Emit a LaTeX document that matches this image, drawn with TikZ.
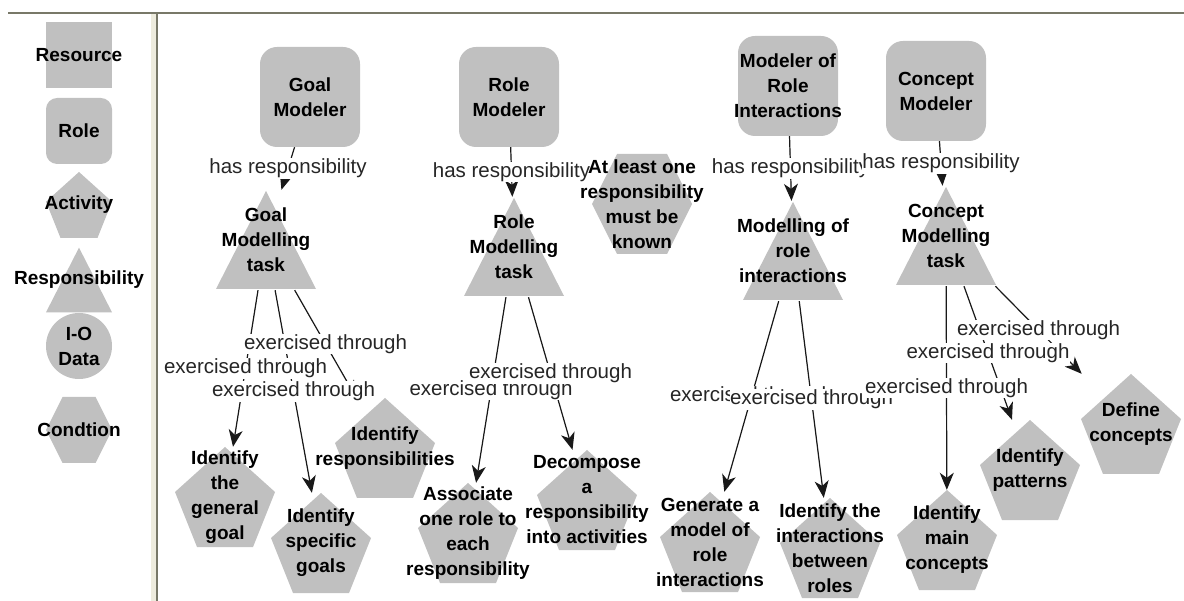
\documentclass[tikz,border=0pt]{standalone}
\usepackage{fontspec}
\setmainfont{Liberation Sans}
\usetikzlibrary{arrows.meta}

\definecolor{shapegray}{RGB}{192,192,192}
\definecolor{panelline}{RGB}{120,120,104}
\definecolor{panelband}{RGB}{238,236,222}

\begin{document}
\begin{tikzpicture}[x=1pt, y=-1pt,
  every node/.style={inner sep=0pt},
  kind/.style={font=\fontsize{19}{25}\selectfont\bfseries, align=center,
    minimum width=#1, minimum height=#1},
  resource/.style={kind=#1, path picture={
      \fill[shapegray] (path picture bounding box.center)
        +(-0.5*#1,-0.5*#1) rectangle +(0.5*#1,0.5*#1);}},
  resource/.default=100,
  role/.style={kind=#1, path picture={
      \fill[shapegray, rounded corners=0.17pt*#1] (path picture bounding box.center)
        +(-0.5*#1,-0.5*#1) rectangle +(0.5*#1,0.5*#1);}},
  role/.default=100,
  activity/.style={kind=#1, path picture={
      \fill[shapegray] (path picture bounding box.center) +(0,-0.5*#1)
        -- +(0.5*#1,-0.05*#1) -- +(0.28*#1,0.5*#1) -- +(-0.28*#1,0.5*#1)
        -- +(-0.5*#1,-0.05*#1) -- cycle;}},
  activity/.default=100,
  resp/.style={kind=#1, path picture={
      \fill[shapegray] (path picture bounding box.center) +(0,-0.49*#1)
        -- +(0.5*#1,0.49*#1) -- +(-0.5*#1,0.49*#1) -- cycle;}},
  resp/.default=100,
  iodata/.style={kind=#1, path picture={
      \fill[shapegray] (path picture bounding box.center) circle (0.5*#1);}},
  iodata/.default=100,
  condition/.style={kind=#1, path picture={
      \fill[shapegray] (path picture bounding box.center) +(-0.25*#1,-0.5*#1)
        -- +(0.25*#1,-0.5*#1) -- +(0.5*#1,0) -- +(0.25*#1,0.5*#1)
        -- +(-0.25*#1,0.5*#1) -- +(-0.5*#1,0) -- cycle;}},
  condition/.default=100,
  link/.style={-{Stealth[length=17pt, width=14pt, inset=5pt]}, line width=1.2pt,
    draw=black!90, fill=black},
  lbl/.style={font=\fontsize{20.5}{24}\selectfont, fill=white, text=black!85,
    inner sep=0.5pt}
]
  \useasboundingbox[fill=white] (0,0) rectangle (1184,601);

  % panel frame
  \fill[panelband] (151,13) rectangle (157,601);
  \draw[panelline, line width=1.5pt] (8,13) -- (1184,13);
  \draw[panelline, line width=1.5pt] (157,13) -- (157,601);

  % Legend on the left
  \node[resource=66]  (lgRes)  at (79,55)  {Resource};
  \node[role=66]      (lgRole) at (79,131) {Role};
  \node[activity=66]  (lgAct)  at (79,205) {Activity};
  \node[resp=66]      (lgResp) at (79,280) {Responsibility};
  \node[iodata=66]    (lgData) at (79,346) {I-O\\Data};
  \node[condition=66] (lgCond) at (79,430) {Condtion};

  % Roles
  \node[role] (goalR)    at (310,97) {Goal\\Modeler};
  \node[role] (roleR)    at (509,97) {Role\\Modeler};
  \node[role] (interR)   at (788,86) {Modeler of\\Role\\Interactions};
  \node[role] (conceptR) at (936,91) {Concept\\Modeler};

  % Responsibilities
  \node[resp] (goalT)    at (266,240) {Goal\\Modelling\\task};
  \node[resp] (roleT)    at (514,247) {Role\\Modelling\\task};
  \node[resp] (interT)   at (793,251) {Modelling of\\role\\interactions};
  \node[resp] (conceptT) at (946,236) {Concept\\Modelling\\task};

  % Activities
  \node[activity] (genGoal)    at (225,497)  {Identify\\the\\general\\goal};
  \node[activity] (specGoals)  at (321,543)  {Identify\\specific\\goals};
  \node[activity] (identResp)  at (385,448)  {Identify\\responsibilities};
  \node[activity] (assoc)      at (468,533)  {Associate\\one role to\\each\\responsibility};
  \node[activity] (decomp)     at (587,500)  {Decompose\\a\\responsibility\\into activities};
  \node[activity] (genModel)   at (710,542)  {Generate a\\model of\\role\\interactions};
  \node[activity] (identInter) at (830,548)  {Identify the\\interactions\\between\\roles};
  \node[activity] (mainConc)   at (947,540)  {Identify\\main\\concepts};
  \node[activity] (patterns)   at (1030,470) {Identify\\patterns};
  \node[activity] (defConc)    at (1131,424) {Define\\concepts};

  % has responsibility
  \draw[link] (goalR) -- (goalT);
  \draw[link] (roleR) -- (roleT);
  \draw[link] (interR) -- (interT);
  \draw[link] (conceptR) -- (conceptT);

  % exercised through
  \draw[link] (goalT) -- (genGoal);
  \draw[link] (goalT) -- (specGoals);
  \draw[link] (goalT) -- (identResp);
  \draw[link] (roleT) -- (assoc);
  \draw[link] (roleT) -- (decomp);
  \draw[link] (interT) -- (genModel);
  \draw[link] (interT) -- (identInter);
  \draw[link] (conceptT) -- (mainConc);
  \draw[link] (conceptT) -- (patterns);
  \draw[link] (conceptT) -- (defConc);

  % edge labels, on top of the lines
  \path (goalR) -- node[lbl] {has responsibility} (goalT);
  \path (roleR) -- node[lbl] {has responsibility} (roleT);
  \path (interR) -- node[lbl] {has responsibility} (interT);
  \path (conceptR) -- node[lbl] {has responsibility} (conceptT);
  \path (goalT) -- node[lbl] {exercised through} (specGoals);
  \path (goalT) -- node[lbl] {exercised through} (genGoal);
  \path (goalT) -- node[lbl] {exercised through} (identResp);
  \path (roleT) -- node[lbl] {exercised through} (assoc);
  \path (roleT) -- node[lbl] {exercised through} (decomp);
  \path (interT) -- node[lbl] {exercised through} (genModel);
  \path (interT) -- node[lbl] {exercised through} (identInter);
  \path (conceptT) -- node[lbl] {exercised through} (mainConc);
  \path (conceptT) -- node[lbl] {exercised through} (patterns);
  \path (conceptT) -- node[lbl] {exercised through} (defConc);

  % Condition
  \node[condition] (known) at (642,204) {At least one\\responsibility\\must be\\known};
\end{tikzpicture}
\end{document}
